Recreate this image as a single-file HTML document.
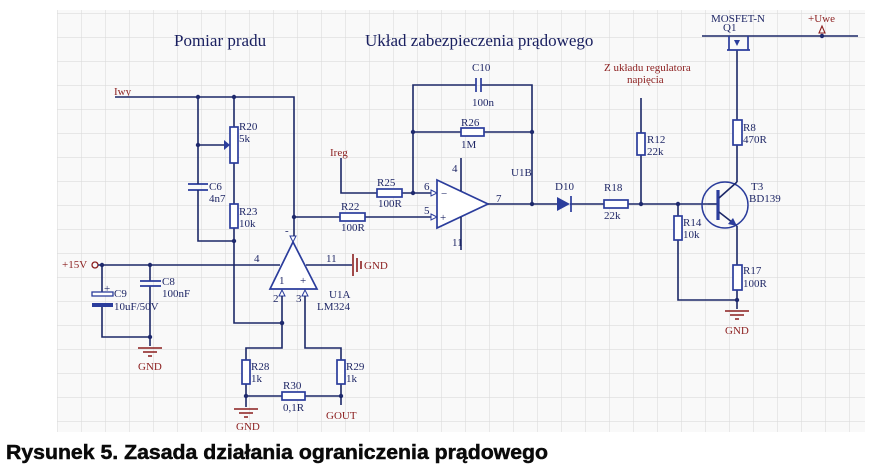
<!DOCTYPE html>
<html><head><meta charset="utf-8"><style>
html,body{margin:0;padding:0;background:#fff;}
svg{display:block;}
.w{stroke:#1c2868;stroke-width:1.6;fill:none;}
.c{stroke:#2b3d9c;stroke-width:1.7;fill:none;}
.cf{fill:#fff;stroke:#2b3d9c;stroke-width:1.7;}
.t{font-family:"Liberation Serif",serif;font-size:11px;fill:#1f2766;}
.r{font-family:"Liberation Serif",serif;font-size:11px;fill:#8b1e1e;}
.g{stroke:#8b1e1e;stroke-width:1.6;fill:none;}
</style></head><body>
<svg width="882" height="472" viewBox="0 0 882 472" xmlns="http://www.w3.org/2000/svg">
<defs>
<pattern id="grid" x="57" y="13" width="24" height="24" patternUnits="userSpaceOnUse">
<path d="M0 0H24M0 0V24" stroke="#dcdcdc" stroke-width="1.2" fill="none"/>
</pattern>
</defs>
<rect x="0" y="0" width="882" height="472" fill="#fff"/>
<rect x="57" y="10" width="808" height="422" fill="#f9f9f9"/>
<rect x="57" y="10" width="808" height="422" fill="url(#grid)"/>

<text x="174" y="46" font-family="Liberation Serif,serif" font-size="17" fill="#1a2060">Pomiar pradu</text>
<text x="365" y="46" font-family="Liberation Serif,serif" font-size="17" fill="#1a2060">Układ zabezpieczenia prądowego</text>

<text x="114" y="95" class="r">Iwy</text>
<path class="w" d="M115 97H294V217M198 97V175M198 197V241H234M234 97V127M234 163V204M234 228V323H282"/>
<circle cx="198" cy="97" r="2.2" fill="#1f2a6e"/><circle cx="234" cy="97" r="2.2" fill="#1f2a6e"/>
<circle cx="234" cy="241" r="2.2" fill="#1f2a6e"/><circle cx="294" cy="217" r="2.2" fill="#1f2a6e"/>
<circle cx="282" cy="323" r="2.2" fill="#1f2a6e"/><circle cx="198" cy="145" r="2.2" fill="#1f2a6e"/>
<rect class="cf" x="230" y="127" width="8" height="36"/>
<path class="w" d="M198 145H226"/><path d="M224 140L230 145L224 150Z" fill="#2b3d9c"/>
<text x="239" y="130" class="t">R20</text><text x="239" y="142" class="t">5k</text>
<path class="c" d="M188 184H208M188 190H208"/><path class="w" d="M198 175V184M198 190V197"/>
<text x="209" y="190" class="t">C6</text><text x="209" y="202" class="t">4n7</text>
<rect class="cf" x="230" y="204" width="8" height="24"/>
<text x="239" y="215" class="t">R23</text><text x="239" y="227" class="t">10k</text>

<text x="62" y="268" class="r">+15V</text>
<circle cx="95" cy="265" r="3" fill="none" stroke="#8b1e1e" stroke-width="1.3"/>
<path class="w" d="M98 265H280M306 265H352"/>
<circle cx="102" cy="265" r="2.2" fill="#1f2a6e"/><circle cx="150" cy="265" r="2.2" fill="#1f2a6e"/>
<text x="254" y="262" class="t">4</text><text x="326" y="262" class="t">11</text>
<path class="g" d="M353 254V276M357 258V272M361 261V269"/>
<text x="364" y="269" class="r">GND</text>
<path class="w" d="M102 265V292M102 307V337H150M150 265V281M150 286V337V346"/>
<rect x="92" y="292" width="21" height="4" fill="#fff" stroke="#2b3d9c" stroke-width="1.3"/>
<rect x="92" y="303" width="21" height="4" fill="#2b3d9c"/>
<text x="104" y="292" class="t" font-size="8">+</text>
<path class="c" d="M140 281H161M140 286H161"/>
<circle cx="150" cy="337" r="2.2" fill="#1f2a6e"/>
<text x="114" y="297" class="t">C9</text><text x="114" y="310" class="t">10uF/50V</text>
<text x="162" y="285" class="t">C8</text><text x="162" y="297" class="t">100nF</text>
<path class="g" d="M138 348H162M143 352H157M148 356H152"/>
<text x="138" y="370" class="r">GND</text>

<path class="cf" d="M293 242L317 289H270Z"/>
<path d="M290 236L293 242L296 236Z M279 296L282 290L285 296Z M302 296L305 290L308 296Z" fill="#fff" stroke="#2b3d9c" stroke-width="1"/>
<path class="w" d="M294 217V236M282 296V348H246V360M305 296V348H341V360M246 384V407M341 384V396M246 396H282M305 396H341"/>
<text x="279" y="284" class="t">1</text><text x="300" y="284" class="t">+</text>
<text x="285" y="234" class="t">-</text>
<text x="273" y="302" class="t" font-size="9">2</text><text x="296" y="302" class="t" font-size="9">3</text>
<text x="329" y="298" class="t">U1A</text><text x="317" y="310" class="t">LM324</text>
<circle cx="282" cy="323" r="2.2" fill="#1f2a6e"/>
<rect class="cf" x="242" y="360" width="8" height="24"/><rect class="cf" x="337" y="360" width="8" height="24"/>
<rect class="cf" x="282" y="392" width="23" height="8"/>
<circle cx="246" cy="396" r="2.2" fill="#1f2a6e"/><circle cx="341" cy="396" r="2.2" fill="#1f2a6e"/>
<text x="251" y="370" class="t">R28</text><text x="251" y="382" class="t">1k</text>
<text x="346" y="370" class="t">R29</text><text x="346" y="382" class="t">1k</text>
<text x="283" y="389" class="t">R30</text><text x="283" y="411" class="t">0,1R</text>
<path class="g" d="M234 409H258M239 413H253M244 417H248"/>
<text x="236" y="430" class="r">GND</text>
<path class="w" d="M341 396V405"/>
<text x="326" y="419" class="r">GOUT</text>

<text x="330" y="156" class="r">Ireg</text>
<path class="w" d="M341 158V193H377M402 193H431M294 217H340M365 217H431"/>
<path d="M431 190L437 193L431 196Z M431 214L437 217L431 220Z" fill="#fff" stroke="#2b3d9c" stroke-width="1"/>
<rect class="cf" x="377" y="189" width="25" height="8"/>
<rect class="cf" x="340" y="213" width="25" height="8"/>
<text x="377" y="186" class="t">R25</text><text x="378" y="207" class="t">100R</text>
<text x="341" y="210" class="t">R22</text><text x="341" y="231" class="t">100R</text>
<text x="424" y="190" class="t">6</text><text x="424" y="214" class="t">5</text>
<path class="w" d="M413 193V85H476M481 85H532V204M413 132H461M484 132H532"/>
<path class="c" d="M476 78V92M481 78V92"/>
<rect class="cf" x="461" y="128" width="23" height="8"/>
<circle cx="413" cy="193" r="2.2" fill="#1f2a6e"/><circle cx="413" cy="132" r="2.2" fill="#1f2a6e"/>
<circle cx="532" cy="132" r="2.2" fill="#1f2a6e"/><circle cx="532" cy="204" r="2.2" fill="#1f2a6e"/>
<text x="472" y="71" class="t">C10</text><text x="472" y="106" class="t" font-size="9.5">100n</text>
<text x="461" y="126" class="t">R26</text><text x="461" y="148" class="t">1M</text>
<path class="cf" d="M437 180L488 204L437 228Z"/>
<path class="w" d="M461 158V191M461 217V250"/>
<text x="441" y="197" class="t" font-size="12">−</text><text x="440" y="221" class="t" font-size="12">+</text>
<text x="511" y="176" class="t">U1B</text><text x="496" y="202" class="t">7</text>
<text x="452" y="172" class="t" font-size="9">4</text><text x="452" y="246" class="t" font-size="9">11</text>
<path class="w" d="M488 204H557M570 204H604M628 204H708M641 204V98M678 204V216M678 240V300H737"/>
<path d="M557 197L570 204L557 211Z" fill="#2b3d9c"/><path class="c" d="M571 196V212"/>
<text x="555" y="190" class="t">D10</text>
<rect class="cf" x="604" y="200" width="24" height="8"/>
<text x="604" y="191" class="t">R18</text><text x="604" y="219" class="t">22k</text>
<circle cx="641" cy="204" r="2.2" fill="#1f2a6e"/><circle cx="678" cy="204" r="2.2" fill="#1f2a6e"/>
<rect class="cf" x="637" y="133" width="8" height="22"/>
<text x="647" y="143" class="t">R12</text><text x="647" y="155" class="t">22k</text>
<text x="604" y="71" class="r" font-size="9.5">Z układu regulatora</text>
<text x="627" y="83" class="r" font-size="9.5">napięcia</text>
<rect class="cf" x="674" y="216" width="8" height="24"/>
<text x="683" y="226" class="t">R14</text><text x="683" y="238" class="t">10k</text>
<circle cx="725" cy="205" r="23" fill="none" stroke="#2b3d9c" stroke-width="1.5"/>
<path class="w" d="M708 204H718"/>
<path d="M718 190V220" stroke="#2b3d9c" stroke-width="3.2"/>
<path class="w" d="M719 198L737 182M719 212L737 226"/>
<path d="M737 226L728 224L733 218Z" fill="#2b3d9c"/>
<text x="751" y="190" class="t">T3</text><text x="749" y="202" class="t">BD139</text>
<path class="w" d="M737 182V145M737 120V50M737 226V265M737 290V309"/>
<rect class="cf" x="733" y="120" width="9" height="25"/>
<rect class="cf" x="733" y="265" width="9" height="25"/>
<circle cx="737" cy="300" r="2.2" fill="#1f2a6e"/>
<text x="743" y="131" class="t">R8</text><text x="743" y="143" class="t">470R</text>
<text x="743" y="274" class="t">R17</text><text x="743" y="287" class="t">100R</text>
<path class="g" d="M725 311H749M730 315H744M735 319H739"/>
<text x="725" y="334" class="r">GND</text>
<path class="w" d="M702 36H858"/>
<path class="c" d="M729 36V50M748 36V50M727 50H750"/>
<path d="M734 40H740L737 46Z" fill="#2b3d9c"/>
<text x="711" y="22" class="t">MOSFET-N</text><text x="723" y="31" class="t">Q1</text>
<text x="808" y="22" class="r">+Uwe</text>
<path d="M819 33L822 26L825 33Z" fill="none" stroke="#8b1e1e" stroke-width="1.1"/>
<circle cx="822" cy="36" r="2.2" fill="#1f2a6e"/>

<text x="6" y="459" font-family="Liberation Sans,sans-serif" font-weight="bold" font-size="20.5" fill="#0a0a0a" stroke="#0a0a0a" stroke-width="0.5" textLength="542" lengthAdjust="spacingAndGlyphs">Rysunek 5. Zasada działania ograniczenia prądowego</text>
</svg>
</body></html>
